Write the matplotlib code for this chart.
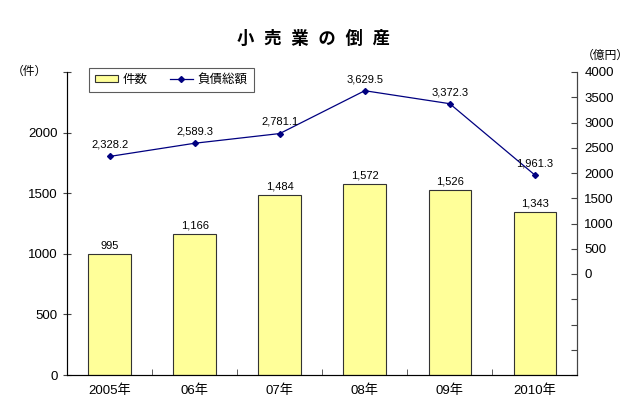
import matplotlib
matplotlib.use("Agg")
from matplotlib import pyplot as plt
from matplotlib.lines import Line2D
from matplotlib.patches import Patch
from matplotlib.ticker import FixedLocator

plt.rcParams['font.family'] = ['Liberation Sans', 'Noto Sans CJK JP', 'DejaVu Sans']

years = ["2005年", "06年", "07年", "08年", "09年", "2010年"]
counts = [995, 1166, 1484, 1572, 1526, 1343]
debts = [2328.2, 2589.3, 2781.1, 3629.5, 3372.3, 1961.3]

fig = plt.figure(figsize=(6.4, 4.0), dpi=100)
ax = fig.add_axes([0.105, 0.0625, 0.797, 0.7575])
x = range(len(years))

ax.bar(x, counts, width=0.5, color="#FFFF99", edgecolor="#333333", linewidth=0.8, zorder=2)
for i, v in enumerate(counts):
    ax.text(i, v + 30, "{:,}".format(v), ha="center", va="bottom", fontsize=8)

ax.set_xlim(-0.5, len(years) - 0.5)
ax.set_ylim(0, 2500)
ax.set_yticks([0, 500, 1000, 1500, 2000, 2500])
ax.set_yticklabels(["0", "500", "1000", "1500", "2000", ""], fontsize=9.5)
ax.set_xticks(list(x))
ax.set_xticklabels(years, fontsize=9.5)
ax.xaxis.set_minor_locator(FixedLocator([i + 0.5 for i in range(len(years) - 1)]))
ax.tick_params(axis="x", which="major", length=0, pad=7)
ax.tick_params(axis="x", which="minor", direction="in", length=4, color="#444444")
ax.tick_params(axis="y", direction="inout", length=6, color="#444444", pad=4)
ax.spines["top"].set_visible(False)
for s in ["left", "bottom", "right"]:
    ax.spines[s].set_color("#444444")
ax.text(-0.04, 1.0, "（件）", transform=ax.transAxes, ha="right", va="center", fontsize=8.5)

ax2 = ax.twinx()
ax2.plot(list(x), debts, color="#000080", linewidth=0.9, marker="D", markersize=3, zorder=3)
for i, v in enumerate(debts):
    ax2.text(i, v + 130, "{:,.1f}".format(v), ha="center", va="bottom", fontsize=8)
ax2.set_ylim(-2000, 4000)
ax2.set_yticks(list(range(-2000, 4001, 500)))
ax2.set_yticklabels(["" if t < 0 else str(t) for t in range(-2000, 4001, 500)], fontsize=9.5)
ax2.tick_params(axis="y", direction="in", length=4, color="#444444", pad=5)
ax2.spines["top"].set_visible(False)
ax2.spines["right"].set_color("#444444")
ax2.text(1.055, 1.035, "（億円）", transform=ax2.transAxes, ha="center", va="bottom", fontsize=8.5)

handles = [Patch(facecolor="#FFFF99", edgecolor="#333333", linewidth=0.8),
           Line2D([], [], color="#000080", linewidth=0.9, marker="D", markersize=3)]
leg = ax2.legend(handles, ["件数", "負債総額"], loc="upper left", bbox_to_anchor=(0.03, 1.035),
                 ncol=2, fontsize=9, frameon=True, fancybox=False, edgecolor="#333333",
                 handlelength=1.8, handleheight=0.6, handletextpad=0.4, columnspacing=1.8,
                 borderpad=0.5)
leg.get_frame().set_linewidth(0.8)

fig.text(0.49, 0.905, "小  売  業  の  倒  産", ha="center", va="center", fontsize=12.5, fontweight="bold")

fig.savefig("out.png", dpi=100)
